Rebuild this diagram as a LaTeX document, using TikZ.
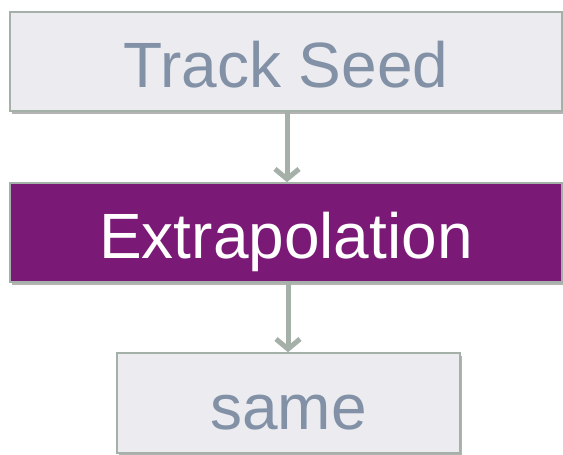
\documentclass[tikz,border=0pt]{standalone}
\usepackage{fontspec}
\setmainfont{Liberation Sans}
\usetikzlibrary{arrows.meta,positioning,shadows}
\definecolor{boxfill}{HTML}{EBEBF0}
\definecolor{boxline}{HTML}{A5B0A9}
\definecolor{stagepurple}{HTML}{7B1A76}
\definecolor{labelgray}{HTML}{8291A6}
\tikzset{
  stepbox/.style={draw=boxline, line width=1.5pt, fill=boxfill, inner sep=0pt, font=\fontsize{64}{64}\selectfont, text=labelgray, text height=52pt, text depth=0pt, drop shadow={shadow xshift=2pt, shadow yshift=-3pt, opacity=0.6}},
  activebox/.style={stepbox, fill=stagepurple, text=white},
  flowline/.style={-{Straight Barb[length=10pt, width=24pt]}, line width=5pt, draw=boxline},
}
\begin{document}
\begin{tikzpicture}[x=1pt, y=-1pt]
  \useasboundingbox (0,0) rectangle (563,455);
  \node[stepbox, minimum width=552pt, minimum height=99pt] (seed) at (286,61.5) {Track Seed};
  \node[activebox, minimum width=552pt, minimum height=99pt] (extrap) at (286,232.5) {Extrapolation};
  \node[stepbox, minimum width=343pt, minimum height=100pt] (same) at (288.5,403) {same};
  \draw[flowline] (seed.south -| 287,0) -- (extrap.north -| 287,0);
  \draw[flowline] (extrap.south -| 288,0) -- (same.north -| 288,0);
\end{tikzpicture}
\end{document}
